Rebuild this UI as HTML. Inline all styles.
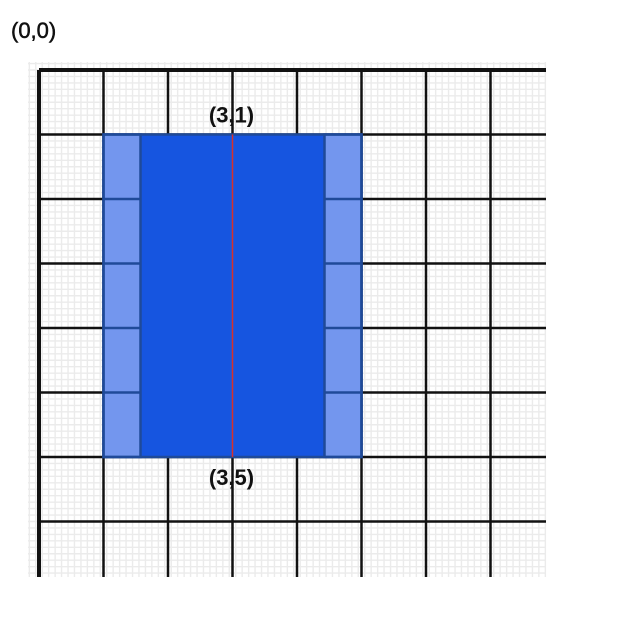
<!DOCTYPE html>
<html><head><meta charset="utf-8"><style>
html,body{margin:0;padding:0;background:#fff;width:624px;height:626px;overflow:hidden}
svg{display:block}
text{font-family:"Liberation Sans",sans-serif;font-size:22px;fill:#111}
</style></head><body>
<svg id="c" width="624" height="626"></svg>
<script>
const cols = [0,1,2,3,4,5,6,7];
const rows = [0,1,2,3,4,5,6,7];
const rectStart = [1,1];   // col,row
const rectEnd = [5,6];
const topLabel = "(3,1)";
const bottomLabel = "(3,5)";
const originLabel = "(0,0)";
const centerCol = [3];
const ns="http://www.w3.org/2000/svg";
const svg=document.getElementById('c');
const X0=39,Y0=70,S=64.5,XR=546,YB=577;
const sx=c=>X0+c*S, sy=r=>Y0+r*S;
function el(t,a,name){const e=document.createElementNS(ns,t);for(const k in a)e.setAttribute(k,a[k]);


svg.appendChild(e);return e;}
// minor grid
for(let x=X0-S/10*1.5;x<=XR;x+=S/10){el('line',{x1:x,y1:62,x2:x,y2:YB,stroke:'#ebebeb','stroke-width':1.4},'minor-gridline');}
for(let y=Y0-S/10;y<=YB;y+=S/10){el('line',{x1:28,y1:y,x2:XR,y2:y,stroke:'#ebebeb','stroke-width':1.4},'minor-gridline');}
// major grid
cols.forEach(c=>{el('line',{x1:sx(c),y1:Y0,x2:sx(c),y2:YB,stroke:'#111','stroke-width':c==0?4:2.5},'major-gridline-v');});
rows.forEach(r=>{el('line',{x1:X0,y1:sy(r),x2:XR,y2:sy(r),stroke:'#111','stroke-width':r==0?4:2.5},'major-gridline-h');});
// rectangle
const rx1=sx(rectStart[0]),ry1=sy(rectStart[1]),rx2=sx(rectEnd[0]),ry2=sy(rectEnd[1]);
const strip=37;
el('rect',{x:rx1,y:ry1,width:rx2-rx1,height:ry2-ry1,fill:'#1655e0'},'rectangle-body');
el('rect',{x:rx1,y:ry1,width:strip,height:ry2-ry1,fill:'#7396ee',stroke:'#1f4a99','stroke-width':2.5},'left-strip');
el('rect',{x:rx2-strip,y:ry1,width:strip,height:ry2-ry1,fill:'#7396ee',stroke:'#1f4a99','stroke-width':2.5},'right-strip');
for(let r=rectStart[1]+1;r<rectEnd[1];r++){
 el('line',{x1:rx1,y1:sy(r),x2:rx1+strip,y2:sy(r),stroke:'#1f4a99','stroke-width':2.5},'strip-divider');
 el('line',{x1:rx2-strip,y1:sy(r),x2:rx2,y2:sy(r),stroke:'#1f4a99','stroke-width':2.5},'strip-divider');
}
el('rect',{x:rx1,y:ry1,width:rx2-rx1,height:ry2-ry1,fill:'none',stroke:'#1f4a99','stroke-width':2.5},'rectangle-border');
el('line',{x1:sx(centerCol[0]),y1:ry1,x2:sx(centerCol[0]),y2:ry2,stroke:'#d8302a','stroke-width':1.5},'center-line');
const t1=el('text',{x:sx(centerCol[0])-1,y:ry1-12,'text-anchor':'middle','font-weight':'bold'},'top-label');t1.textContent=topLabel;
const t2=el('text',{x:sx(centerCol[0])-1,y:ry2+28,'text-anchor':'middle','font-weight':'bold'},'bottom-label');t2.textContent=bottomLabel;
const t3=el('text',{x:11,y:38,'font-size':'23','stroke':'#111','stroke-width':0.5},'origin-label');t3.textContent=originLabel;
</script>
</body></html>
